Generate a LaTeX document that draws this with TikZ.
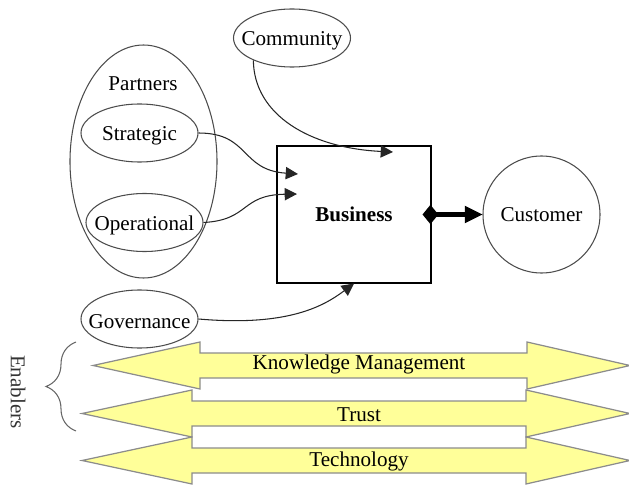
\documentclass[tikz,border=0pt]{standalone}
\usepackage{fontspec}
\setmainfont{Liberation Serif}
\usetikzlibrary{arrows.meta,shapes.geometric,decorations.pathreplacing}

\definecolor{bandyellow}{RGB}{255,255,153}

\begin{document}
\begin{tikzpicture}[>={Triangle[length=7pt,width=7pt]}, line width=0.6pt, font=\fontsize{12}{14}\selectfont]
    \tikzstyle{oval}=[ellipse, draw=black!70, minimum width=2.34cm, minimum height=1.16cm, inner sep=0pt]
    \tikzstyle{ovaltext}=[yshift=-0.06cm]
    \tikzstyle{link}=[->, draw=black!85]
    \tikzstyle{band}=[draw=black!45, fill=bandyellow, line width=0.7pt]

    \useasboundingbox (0,0) rectangle (12.58cm, 9.72cm);

    % partners and the other parties
    \node[ellipse, draw=black!70, minimum width=2.94cm, minimum height=4.66cm] (partners) at (2.87cm, 6.49cm) {};
    \node (plabel) at (2.86cm, 8.04cm) {Partners};
    \node[oval, label={[ovaltext]center:Strategic}] (strat) at (2.79cm, 7.06cm) {};
    \node[oval, label={[ovaltext]center:Operational}] (oper) at (2.89cm, 5.27cm) {};
    \node[oval, label={[ovaltext]center:Governance}] (gov) at (2.79cm, 3.34cm) {};
    \node[oval, label={[ovaltext]center:Community}] (comm) at (5.84cm, 8.96cm) {};

    \node[draw, minimum width=3.08cm, minimum height=2.74cm, font=\fontsize{12}{14}\selectfont\bfseries] (biz) at (7.08cm, 5.43cm) {Business};
    \node[circle, draw=black!70, minimum size=2.34cm, inner sep=0pt] (cust) at (10.83cm, 5.43cm) {Customer};

    \coordinate (bizS) at (5.96cm, 6.24cm);
    \coordinate (bizO) at (5.94cm, 5.84cm);
    \coordinate (bizC) at (7.86cm, 6.68cm);

    \draw[link] (strat.east) .. controls (5.0cm, 7.06cm) and (4.8cm, 6.32cm) .. (bizS);
    \draw[link] (oper.east) .. controls (5.0cm, 5.32cm) and (4.8cm, 5.82cm) .. (bizO);
    \draw[link] (comm.210) .. controls (5.08cm, 7.42cm) and (6.2cm, 6.76cm) .. (bizC);
    \draw[link] (gov.east) .. controls (5.8cm, 3.18cm) and (6.5cm, 3.62cm) .. (biz.south);

    \draw[line width=2.8pt, {Diamond[length=9pt,width=11pt,line width=0pt]}-{Triangle[length=10pt,width=10pt,line width=0pt]}] ([xshift=-0.18cm]biz.east) -- (cust.west);

    % enabler bands
    \foreach \yc/\xl/\xb/\xr/\dy/\name/\txt in {2.41/1.86/4.0/10.54/0.08/km/Knowledge Management,
                                               1.45/1.64/3.84/10.52/0.15/trust/Trust,
                                               0.51/1.64/3.84/10.52/0.11/tech/Technology} {
        \draw[band] (\xl, \yc) -- (\xb, \yc+0.47) -- (\xb, \yc+0.25) -- (\xr, \yc+0.25) -- (\xr, \yc+0.47)
            -- (12.6, \yc) -- (\xr, \yc-0.47) -- (\xr, \yc-0.25) -- (\xb, \yc-0.25) -- (\xb, \yc-0.47) -- cycle;
        \node[anchor=base] (\name) at (7.18, \yc-\dy) {\txt};
    }

    \draw[black!60, decorate, decoration={brace, amplitude=0.6cm}] (1.52cm, 1.1cm) -- (1.52cm, 2.88cm);
    \node[rotate=-90, text=black!80] (enab) at (0.36cm, 1.88cm) {Enablers};
\end{tikzpicture}
\end{document}
